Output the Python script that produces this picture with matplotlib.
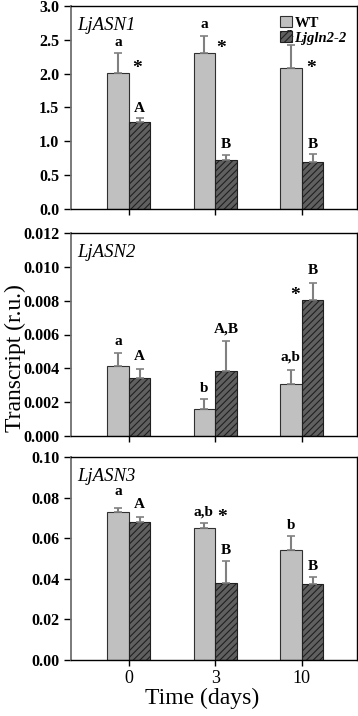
import numpy as np
import matplotlib
matplotlib.use("Agg")
import matplotlib.pyplot as plt

plt.rcParams['font.family'] = ['Liberation Serif', 'DejaVu Serif']
plt.rcParams['hatch.color'] = 'black'
plt.rcParams['hatch.linewidth'] = 0.8

days = ["0", "3", "10"]
genes = ["LjASN1", "LjASN2", "LjASN3"]

# means and (upper) standard errors
wt_mean = [[2.01, 2.31, 2.09], [0.00416, 0.00161, 0.00309], [0.0727, 0.0648, 0.0540]]
wt_err = [[0.30, 0.25, 0.34], [0.00076, 0.00058, 0.00081], [0.0024, 0.0029, 0.0071]]
mut_mean = [[1.29, 0.73, 0.70], [0.00345, 0.00384, 0.00802], [0.0682, 0.0377, 0.0374]]
mut_err = [[0.05, 0.07, 0.11], [0.00053, 0.00179, 0.00104], [0.0020, 0.0110, 0.0033]]

ylims = [3.0, 0.012, 0.10]
ysteps = [0.5, 0.002, 0.02]
yfmts = ["%.1f", "%.3f", "%.2f"]

# significance labels: (text, x offset from category, y value)
labels = [
    [("a", -0.125, 2.46), ("A", 0.125, 1.49), ("*", 0.09, 2.08),
     ("a", 0.875, 2.72), ("B", 1.125, 0.95), ("*", 1.07, 2.37),
     ("a", 1.86, 2.60), ("B", 2.125, 0.95), ("*", 2.11, 2.08)],
    [("a", -0.125, 0.00557), ("A", 0.125, 0.00469),
     ("b", 0.875, 0.00282), ("A,B", 1.125, 0.00631),
     ("a,b", 1.875, 0.00465), ("*", 1.92, 0.00830), ("B", 2.125, 0.00977)],
    [("a", -0.125, 0.0828), ("A", 0.125, 0.0767),
     ("a,b", 0.86, 0.0730), ("*", 1.08, 0.0700), ("B", 1.125, 0.0538),
     ("b", 1.875, 0.0664), ("B", 2.125, 0.0459)],
]

fig = plt.figure(figsize=(3.58, 7.16), dpi=100)
left, right = 71 / 358, 357 / 358
tops = [6, 233, 457]
h = 203

x = np.arange(len(days))
w = 0.25
for i in range(3):
    ax = fig.add_axes([left, 1 - (tops[i] + h) / 716, right - left, h / 716])
    ax.bar(x - w / 2, wt_mean[i], w, color='#c0c0c0', edgecolor='#303030',
           linewidth=0.8, label='WT')
    ax.bar(x + w / 2, mut_mean[i], w, color='#606060', edgecolor='#202020',
           linewidth=0.8, hatch='/////', label='Ljgln2-2')
    ax.errorbar(x - w / 2, wt_mean[i], yerr=[np.zeros(3), wt_err[i]], fmt='none',
                ecolor='#808080', elinewidth=1.5, capsize=3, capthick=1.2)
    ax.errorbar(x + w / 2, mut_mean[i], yerr=[np.zeros(3), mut_err[i]], fmt='none',
                ecolor='#808080', elinewidth=1.5, capsize=3, capthick=1.2)
    for txt, dx, yv in labels[i]:
        ax.text(dx, yv, txt, ha='center', va='center',
                fontsize=14 if txt == "*" else 11, fontweight='bold')
    ax.set_xlim(-0.67, 2.64)
    ax.set_ylim(0, ylims[i])
    ax.set_yticks(np.arange(0, ylims[i] + ysteps[i] / 2, ysteps[i]))
    ax.yaxis.set_major_formatter(matplotlib.ticker.FormatStrFormatter(yfmts[i]))
    ax.set_xticks(x)
    ax.tick_params(axis='y', direction='out', length=5, labelsize=11.5, width=1)
    ax.tick_params(axis='x', direction='out', length=4, width=1)
    for t in ax.get_yticklabels():
        t.set_fontweight('bold')
    if i == 2:
        ax.set_xticklabels(days, fontsize=13)
    else:
        ax.set_xticklabels([])
    for s in ax.spines.values():
        s.set_linewidth(1)
    ax.spines['left'].set_color('#707070')
    ax.spines['left'].set_linewidth(1.3)
    ax.text(0.02, 0.905, genes[i], transform=ax.transAxes, fontsize=13.5,
            style='italic', ha='left', va='center')
    if i == 0:
        leg = ax.legend(loc='upper right', frameon=False,
                        handlelength=0.8, handleheight=0.8, handletextpad=0.2,
                        borderaxespad=0.3, labelspacing=0.1,
                        prop={'size': 10.5, 'weight': 'bold'})
        leg.get_texts()[1].set_style('italic')

fig.text(15 / 358, 0.5, "Transcript (r.u.)", rotation=90, ha='center', va='center',
         fontsize=17)
fig.text(202 / 358, 1 - 698 / 716, "Time (days)", ha='center', va='center', fontsize=17)

fig.savefig("out.png", dpi=100)
